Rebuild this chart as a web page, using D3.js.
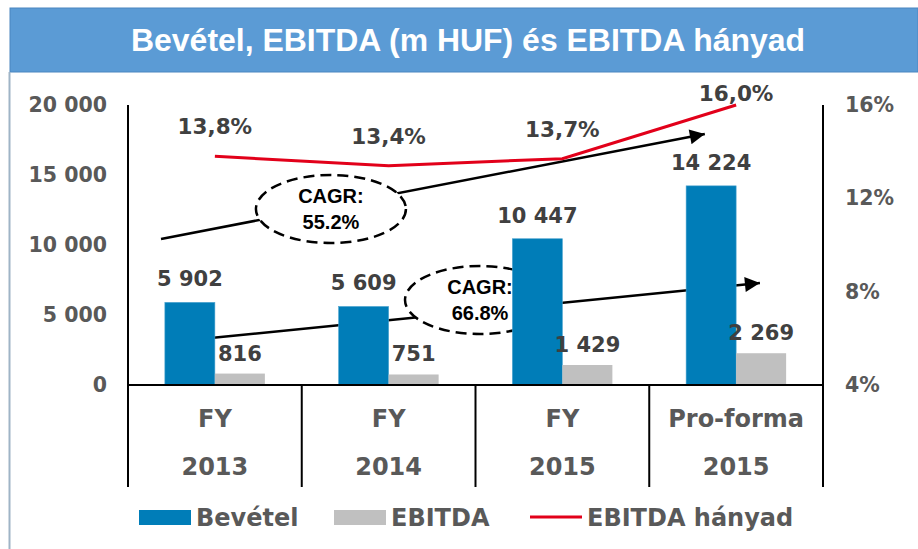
<!DOCTYPE html>
<html>
<head>
<meta charset="utf-8">
<script src="https://cdn.jsdelivr.net/npm/d3@7/dist/d3.min.js"></script>
<style>
    body { margin: 0; background: #fff; }
    text { font-family: "DejaVu Sans", Verdana, sans-serif; font-weight: bold; }
</style>
</head>
<body>
<svg id="chart" width="918" height="549"></svg>
<script>
// chart values
const catTop = ['FY', 'FY', 'FY', 'Pro-forma'];
const catBottom = ['2013', '2014', '2015', '2015'];
const revenue = [5902, 5609, 10447, 14224];
const ebitda = [816, 751, 1429, 2269];
const ebitdaMargin = [13.8, 13.4, 13.7, 16.0];
const leftTicks = [0, 5000, 10000, 15000, 20000];
const rightTicks = [4, 8, 12, 16];
const cagrLabels = ['55.2%', '66.8%'];
const legendNames = ['Bevétel', 'EBITDA', 'EBITDA hányad'];

const fmt = d => d3.format(',')(d).replace(/,/g, ' ');
const fmtPct = d => d.toFixed(1).replace('.', ',') + '%';

let plot = { left: 128, right: 823, top: 105, bottom: 385, tableBottom: 487 };
let grey = '#595959', dark = '#404040';
let blue = '#007db8', light = '#c0c0c0', red = '#e2001a';

let svg = d3.select('#chart');

// title band + frame line
svg.append('rect')
    .attr('x', 10).attr('y', 8)
    .attr('width', 908).attr('height', 64)
    .attr('fill', '#5b9bd5')
    .attr('stroke', '#4a86c0').attr('stroke-width', 1);
svg.append('line')
    .attr('x1', 9.5).attr('x2', 9.5)
    .attr('y1', 72).attr('y2', 549)
    .attr('stroke', '#9fb4c6').attr('stroke-width', 2);
svg.append('text')
    .attr('x', 468).attr('y', 51)
    .attr('text-anchor', 'middle')
    .attr('fill', '#fff')
    .style('font-family', '"Liberation Sans", Arial, sans-serif')
    .attr('font-size', 31)
    .attr('textLength', 674)
    .attr('lengthAdjust', 'spacingAndGlyphs')
    .text('Bevétel, EBITDA (m HUF) és EBITDA hányad');

// scales
let x = d3.scaleBand()
    .domain(d3.range(catTop.length))
    .range([plot.left, plot.right]);
let xc = i => plot.left + x.step() * (i + 0.5);
let yL = d3.scaleLinear().domain([0, 20000]).range([plot.bottom, plot.top]);
let yR = d3.scaleLinear().domain([4, 16]).range([plot.bottom, plot.top]);
let barW = 50;

// arrow marker
svg.append('defs').append('marker')
    .attr('id', 'arrow')
    .attr('viewBox', '0 0 10 10')
    .attr('refX', 10).attr('refY', 5)
    .attr('markerUnits', 'userSpaceOnUse')
    .attr('markerWidth', 18).attr('markerHeight', 15)
    .attr('orient', 'auto')
    .append('path')
    .attr('d', 'M0,0 L10,5 L0,10 Z')
    .attr('fill', '#000');

// CAGR annotations (category index, revenue units)
let cagrNotes = [
    { from: [-0.31, 10430], to: [2.82, 17930], at: [0.668, 12570] },
    { from: [-0.14, 3210], to: [3.137, 7290], at: [1.526, 6070] }
];

function drawNote(n) {
    let g = svg.append('g');
    g.append('line')
        .attr('x1', xc(n.from[0])).attr('y1', yL(n.from[1]))
        .attr('x2', xc(n.to[0])).attr('y2', yL(n.to[1]))
        .attr('stroke', '#000').attr('stroke-width', 2.5)
        .attr('marker-end', 'url(#arrow)');
    g.append('ellipse')
        .attr('cx', xc(n.at[0])).attr('cy', yL(n.at[1]))
        .attr('rx', 75).attr('ry', 34)
        .attr('fill', '#fff')
        .attr('stroke', '#000').attr('stroke-width', 2.5)
        .attr('stroke-dasharray', '11,6');
}

// lower note sits behind the bars
drawNote(cagrNotes[1]);

// bars
svg.append('g').selectAll('rect')
    .data(revenue)
    .enter().append('rect')
    .attr('x', (d, i) => xc(i) - barW)
    .attr('y', d => yL(d))
    .attr('width', barW)
    .attr('height', d => plot.bottom - yL(d))
    .attr('fill', blue)
    .attr('stroke', '#4aa3cf').attr('stroke-width', 0.6);

svg.append('g').selectAll('rect')
    .data(ebitda)
    .enter().append('rect')
    .attr('x', (d, i) => xc(i))
    .attr('y', d => yL(d))
    .attr('width', barW)
    .attr('height', d => plot.bottom - yL(d))
    .attr('fill', light);

drawNote(cagrNotes[0]);

// CAGR texts
cagrNotes.forEach(function(n, k) {
    let cx = xc(n.at[0]), cy = yL(n.at[1]);
    let t = svg.append('text')
        .attr('text-anchor', 'middle')
        .attr('fill', '#000')
        .style('font-family', '"Liberation Sans", Arial, sans-serif')
        .attr('font-size', 20);
    t.append('tspan').attr('x', cx).attr('y', cy - 6).text('CAGR:');
    t.append('tspan').attr('x', cx).attr('y', cy + 20).text(cagrLabels[k]);
});

// value labels
svg.append('g').selectAll('text')
    .data(revenue)
    .enter().append('text')
    .attr('x', (d, i) => xc(i) - barW / 2)
    .attr('y', d => yL(d) - 16)
    .attr('text-anchor', 'middle')
    .attr('font-size', 21)
    .attr('fill', dark)
    .text(fmt);

svg.append('g').selectAll('text')
    .data(ebitda)
    .enter().append('text')
    .attr('x', (d, i) => xc(i) + barW / 2)
    .attr('y', d => yL(d) - 13)
    .attr('text-anchor', 'middle')
    .attr('font-size', 21)
    .attr('fill', dark)
    .text(fmt);

// EBITDA margin line
let line = d3.line()
    .x((d, i) => xc(i))
    .y(d => yR(d));
svg.append('path')
    .datum(ebitdaMargin)
    .attr('d', line)
    .attr('fill', 'none')
    .attr('stroke', red)
    .attr('stroke-width', 3);

let pctLift = [22, 22, 22, 4];
svg.append('g').selectAll('text')
    .data(ebitdaMargin)
    .enter().append('text')
    .attr('x', (d, i) => xc(i))
    .attr('y', (d, i) => yR(d) - pctLift[i])
    .attr('text-anchor', 'middle')
    .attr('font-size', 21.5)
    .attr('fill', dark)
    .text(fmtPct);

// axes
let axisL = d3.axisLeft(yL).tickValues(leftTicks).tickSize(0).tickPadding(21).tickFormat(fmt);
let axisR = d3.axisRight(yR).tickValues(rightTicks).tickSize(0).tickPadding(22).tickFormat(d => d + '%');

let gl = svg.append('g')
    .attr('transform', 'translate(' + plot.left + ',0)')
    .call(axisL);
let gr = svg.append('g')
    .attr('transform', 'translate(' + plot.right + ',0)')
    .call(axisR);
[gl, gr].forEach(function(g) {
    g.select('.domain').remove();
    g.selectAll('text')
        .attr('font-size', 20.5)
        .attr('fill', grey)
        .style('font-family', '"DejaVu Sans", Verdana, sans-serif');
});

// axis frame + category table
let frame = svg.append('g')
    .attr('stroke', '#000')
    .attr('stroke-width', 2);
frame.append('line')
    .attr('x1', plot.left).attr('x2', plot.left)
    .attr('y1', plot.top).attr('y2', plot.tableBottom);
frame.append('line')
    .attr('x1', plot.right).attr('x2', plot.right)
    .attr('y1', plot.top).attr('y2', plot.tableBottom);
frame.append('line')
    .attr('x1', plot.left).attr('x2', plot.right)
    .attr('y1', plot.bottom).attr('y2', plot.bottom);
frame.selectAll('.sep')
    .data(d3.range(1, catTop.length))
    .enter().append('line')
    .attr('class', 'sep')
    .attr('x1', d => x(d)).attr('x2', d => x(d))
    .attr('y1', plot.bottom).attr('y2', plot.tableBottom);

svg.append('g').selectAll('text')
    .data(catTop)
    .enter().append('text')
    .attr('x', (d, i) => xc(i))
    .attr('y', 427)
    .attr('text-anchor', 'middle')
    .attr('font-size', 24)
    .attr('fill', grey)
    .text(d => d);
svg.append('g').selectAll('text')
    .data(catBottom)
    .enter().append('text')
    .attr('x', (d, i) => xc(i))
    .attr('y', 475)
    .attr('text-anchor', 'middle')
    .attr('font-size', 24)
    .attr('fill', grey)
    .text(d => d);

// legend
let legendX = [139, 334, 530];
let lg = svg.append('g');
legendNames.forEach(function(name, i) {
    if (i < 2) {
        lg.append('rect')
            .attr('x', legendX[i]).attr('y', 510)
            .attr('width', 52).attr('height', 15)
            .attr('fill', i === 0 ? blue : light);
    } else {
        lg.append('line')
            .attr('x1', legendX[i]).attr('x2', legendX[i] + 52)
            .attr('y1', 517).attr('y2', 517)
            .attr('stroke', red).attr('stroke-width', 3);
    }
    lg.append('text')
        .attr('x', legendX[i] + 57)
        .attr('y', 526)
        .attr('font-size', 24)
        .attr('fill', grey)
        .text(name);
});
</script>
</body>
</html>
